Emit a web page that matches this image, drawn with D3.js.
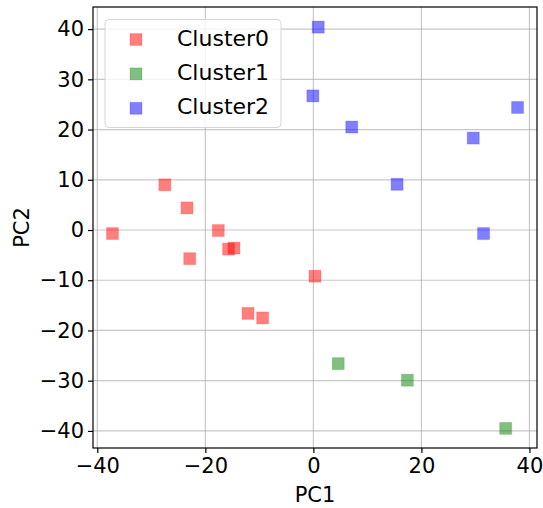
<!DOCTYPE html>
<html>
<head>
<meta charset="utf-8">
<script src="https://cdn.jsdelivr.net/npm/d3@7.9.0/dist/d3.min.js"></script>
<style>
  body { margin: 0; background: #fff; }
  svg { display: block; font-family: "DejaVu Sans", sans-serif; }
</style>
</head>
<body>
<svg id="chart" width="543" height="508"></svg>
<script>
const clusterNames = ['Cluster0', 'Cluster1', 'Cluster2'];
const clusterColors = ['#ff0000', '#008000', '#0000ff'];

const cluster0PC1 = [-37.2, -27.5, -23.4, -22.9, -17.6, -15.7, -14.7, -12.1, -9.4, 0.3];
const cluster0PC2 = [-0.7, 9.0, 4.4, -5.7, -0.1, -3.8, -3.6, -16.6, -17.5, -9.2];
const cluster1PC1 = [4.6, 17.4, 35.6];
const cluster1PC2 = [-26.6, -29.9, -39.5];
const cluster2PC1 = [0.9, -0.1, 7.1, 29.6, 37.8, 15.5, 31.5];
const cluster2PC2 = [40.4, 26.7, 20.5, 18.3, 24.4, 9.1, -0.7];

const xTicks = [-40, -20, 0, 20, 40];
const yTicks = [-40, -30, -20, -10, 0, 10, 20, 30, 40];

const clusters = [
  { xs: cluster0PC1, ys: cluster0PC2 },
  { xs: cluster1PC1, ys: cluster1PC2 },
  { xs: cluster2PC1, ys: cluster2PC2 }
];

const margin = { left: 93, right: 6, top: 7, bottom: 60 };
const width = 543, height = 508;
const svg = d3.select('#chart');

const x = d3.scaleLinear().domain([-40.8, 41.4]).range([margin.left, width - margin.right]);
const y = d3.scaleLinear().domain([-43.4, 44.4]).range([height - margin.bottom, margin.top]);

// grid
const grid = svg.append('g');
xTicks.forEach(t => {
  grid.append('line')
    .attr('x1', x(t)).attr('x2', x(t))
    .attr('y1', y.range()[0]).attr('y2', y.range()[1])
    .attr('stroke', '#b0b0b0').attr('stroke-opacity', 0.7).attr('stroke-width', 1.2);
});
yTicks.forEach(t => {
  grid.append('line')
    .attr('x1', x.range()[0]).attr('x2', x.range()[1])
    .attr('y1', y(t)).attr('y2', y(t))
    .attr('stroke', '#b0b0b0').attr('stroke-opacity', 0.7).attr('stroke-width', 1.2);
});

// points
const size = 12;
clusters.forEach((c, i) => {
  const pts = c.xs.map((v, j) => [v, c.ys[j]]);
  svg.append('g').selectAll('rect').data(pts).join('rect')
    .attr('x', d => x(d[0]) - size / 2)
    .attr('y', d => y(d[1]) - size / 2)
    .attr('width', size).attr('height', size)
    .attr('fill', clusterColors[i]).attr('fill-opacity', 0.5)
    .attr('stroke', clusterColors[i]).attr('stroke-opacity', 0.15).attr('stroke-width', 1.2);
});

// axes
const fmt = d => d < 0 ? '\u2212' + Math.abs(d) : d;
const xAxis = d3.axisBottom(x).tickValues(xTicks).tickSize(5).tickPadding(5).tickFormat(fmt);
const yAxis = d3.axisLeft(y).tickValues(yTicks).tickSize(5).tickPadding(4).tickFormat(fmt);

const gx = svg.append('g').attr('transform', `translate(0,${height - margin.bottom})`).call(xAxis);
const gy = svg.append('g').attr('transform', `translate(${margin.left},0)`).call(yAxis);
[gx, gy].forEach(g => {
  g.select('.domain').remove();
  g.selectAll('text').attr('font-size', 21).attr('fill', '#000').attr('font-family', 'DejaVu Sans');
  g.selectAll('line').attr('stroke', '#000').attr('stroke-width', 1.2);
});

// frame
svg.append('rect')
  .attr('x', margin.left).attr('y', margin.top)
  .attr('width', width - margin.left - margin.right)
  .attr('height', height - margin.top - margin.bottom)
  .attr('fill', 'none').attr('stroke', '#000').attr('stroke-width', 1.2);

// axis labels
svg.append('text').attr('x', (x.range()[0] + x.range()[1]) / 2).attr('y', 502)
  .attr('text-anchor', 'middle').attr('font-size', 21).text('PC1');
svg.append('text')
  .attr('transform', `translate(29,${(y.range()[0] + y.range()[1]) / 2}) rotate(-90)`)
  .attr('text-anchor', 'middle').attr('font-size', 21).text('PC2');

// legend
const legend = svg.append('g');
legend.append('rect')
  .attr('x', 105).attr('y', 19.5).attr('width', 176).attr('height', 108).attr('rx', 4)
  .attr('fill', '#fff').attr('fill-opacity', 0.8)
  .attr('stroke', '#d6d6d6').attr('stroke-width', 1);
clusterNames.forEach((name, i) => {
  const cy = 39.5 + i * 34.4;
  legend.append('rect')
    .attr('x', 136 - size / 2).attr('y', cy - size / 2)
    .attr('width', size).attr('height', size)
    .attr('fill', clusterColors[i]).attr('fill-opacity', 0.5)
    .attr('stroke', clusterColors[i]).attr('stroke-opacity', 0.15).attr('stroke-width', 1.2);
  legend.append('text').attr('x', 177).attr('y', cy + 6)
    .attr('font-size', 22).text(name);
});
</script>
</body>
</html>
